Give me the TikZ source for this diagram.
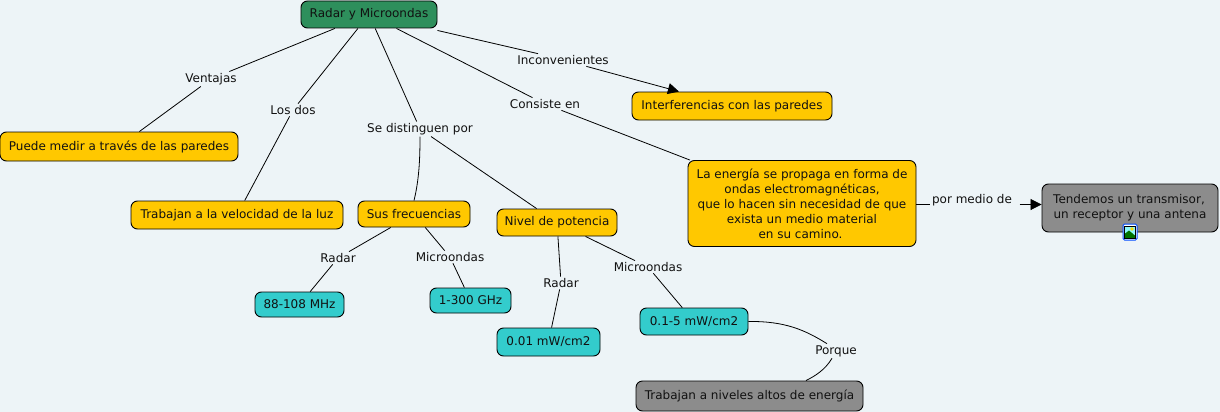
\documentclass[tikz,border=0pt]{standalone}
\usepackage{fontspec}
\setmainfont{DejaVu Sans}
\usetikzlibrary{arrows.meta}
\definecolor{bgc}{HTML}{EDF4F7}
\definecolor{cgreen}{HTML}{2E8F5C}
\definecolor{cyellow}{HTML}{FFC800}
\definecolor{cteal}{HTML}{33CCCC}
\definecolor{cgray}{HTML}{8C8C8C}
\definecolor{ink}{HTML}{111111}
\tikzset{
  cbox/.style={draw=black,line width=0.9pt,rounded corners=6.5pt,align=center,inner sep=0pt,text=ink,font=\fontsize{12}{15}\selectfont},
  rootbox/.style={cbox,fill=cgreen},
  yelbox/.style={cbox,fill=cyellow},
  tealbox/.style={cbox,fill=cteal},
  graybox/.style={cbox,fill=cgray},
  lab/.style={inner sep=1.5pt,text=ink,font=\fontsize{12}{14}\selectfont},
  conn/.style={draw=black,line width=0.8pt},
  arr/.style={conn,-{Triangle[length=11pt,width=11pt]}}
}
\begin{document}
\begin{tikzpicture}[x=1pt,y=-1pt]
\useasboundingbox (0,0) rectangle (1220,412);
\fill[bgc] (0,0) rectangle (1220,412);
% concepts
\node[rootbox,minimum width=136,minimum height=27] (root) at (369,14.5) {Radar y Microondas};
\node[yelbox,minimum width=200,minimum height=28] (interf) at (732,106) {Interferencias con las paredes};
\node[yelbox,minimum width=238,minimum height=29] (puede) at (119,146.5) {Puede medir a través de las paredes};
\node[yelbox,minimum width=212,minimum height=28] (veloc) at (237,215) {Trabajan a la velocidad de la luz};
\node[yelbox,minimum width=112,minimum height=26] (frec) at (414,214) {Sus frecuencias};
\node[yelbox,minimum width=120,minimum height=27] (nivel) at (557,222.5) {Nivel de potencia};
\node[yelbox,minimum width=228,minimum height=86] (energia) at (802,203.5) {La energía se propaga en forma de\\ondas electromagnéticas,\\que lo hacen sin necesidad de que\hspace*{3pt}\\exista un medio material\hspace*{3pt}\\en su camino.\hspace*{3pt}};
\node[graybox,minimum width=176,minimum height=48] (tend) at (1130,208) {Tendemos un transmisor,\hspace*{2pt}\\un receptor y una antena};
\node[tealbox,minimum width=89,minimum height=25] (mhz) at (299.5,304.5) {88-108 MHz};
\node[tealbox,minimum width=81,minimum height=25] (ghz) at (470.5,300.5) {1-300 GHz};
\node[tealbox,minimum width=103,minimum height=28] (mw) at (548.5,342) {0.01 mW/cm2};
\node[tealbox,minimum width=108,minimum height=27] (mwb) at (694,321.5) {0.1-5 mW/cm2};
\node[graybox,minimum width=227,minimum height=30] (altos) at (749.5,396) {Trabajan a niveles altos de energía};
% linking phrases
\node[lab] (ventajas) at (211,79) {Ventajas};
\node[lab] (losdos) at (293,110) {Los dos};
\node[lab] (sedist) at (420,129) {Se distinguen por};
\node[lab] (consiste) at (545,104) {Consiste en};
\node[lab] (inconv) at (563,60) {Inconvenientes};
\node[lab] (pormedio) at (972,200) {por medio de};
\node[lab] (radarA) at (338,258) {Radar};
\node[lab] (microA) at (450,257) {Microondas};
\node[lab] (radarB) at (561,283) {Radar};
\node[lab] (microB) at (648,267) {Microondas};
\node[lab] (porque) at (836,351) {Porque};
% connector helper points
\coordinate (incA) at ([yshift=-2pt]root.south east);
\coordinate (incB) at ([xshift=-25pt]inconv.north);
\coordinate (pqA) at ([xshift=-9pt]porque.north);
\coordinate (pqB) at ([xshift=-4pt]porque.south);
\coordinate (pqC) at ([xshift=56.5pt]altos.north);
% connectors
\draw[conn] (root) -- (ventajas);
\draw[conn] (ventajas) -- (puede);
\draw[conn] (root) -- (losdos);
\draw[conn] (losdos) -- (veloc);
\draw[conn] (root) -- (sedist);
\draw[conn] (sedist.south) .. controls (420,160) and (419,180) .. (frec.north);
\draw[conn] (sedist) -- (nivel);
\draw[conn] (root) -- (consiste);
\draw[conn] (consiste) -- (energia);
\draw[conn] (incA) -- (incB);
\draw[arr] (inconv) -- (interf);
\draw[conn] ([yshift=-1pt]energia.east) -- ([yshift=-4.5pt]pormedio.west);
\draw[arr] ([xshift=6pt,yshift=-4.5pt]pormedio.east) -- ([yshift=3.5pt]tend.west);
\draw[conn] (frec) -- (radarA);
\draw[conn] (radarA) -- (mhz);
\draw[conn] (frec) -- (microA);
\draw[conn] (microA) -- (ghz);
\draw[conn] (nivel) -- (radarB);
\draw[conn] (radarB) -- (mw);
\draw[conn] (nivel) -- (microB);
\draw[conn] (microB) -- (mwb);
\draw[conn] (mwb.east) .. controls (785,321) and (805,330) .. (pqA);
\draw[conn] (pqB) .. controls (825,370) and (815,376) .. (pqC);
% image icon on the grey concept
\fill[white,draw=blue!70!cyan,line width=1pt,rounded corners=1.5pt] (1123,224) rectangle (1137,240);
\fill[bgc!60!cyan] (1124.5,226) rectangle (1135.5,238);
\fill[yellow!80!orange] (1132,229) circle (1.8);
\fill[green!45!black] (1124.5,238) -- (1124.5,234) -- (1129,230.5) -- (1135.5,236) -- (1135.5,238) -- cycle;
\draw[black,line width=0.4pt] (1124.5,226) rectangle (1135.5,238);
\end{tikzpicture}
\end{document}
